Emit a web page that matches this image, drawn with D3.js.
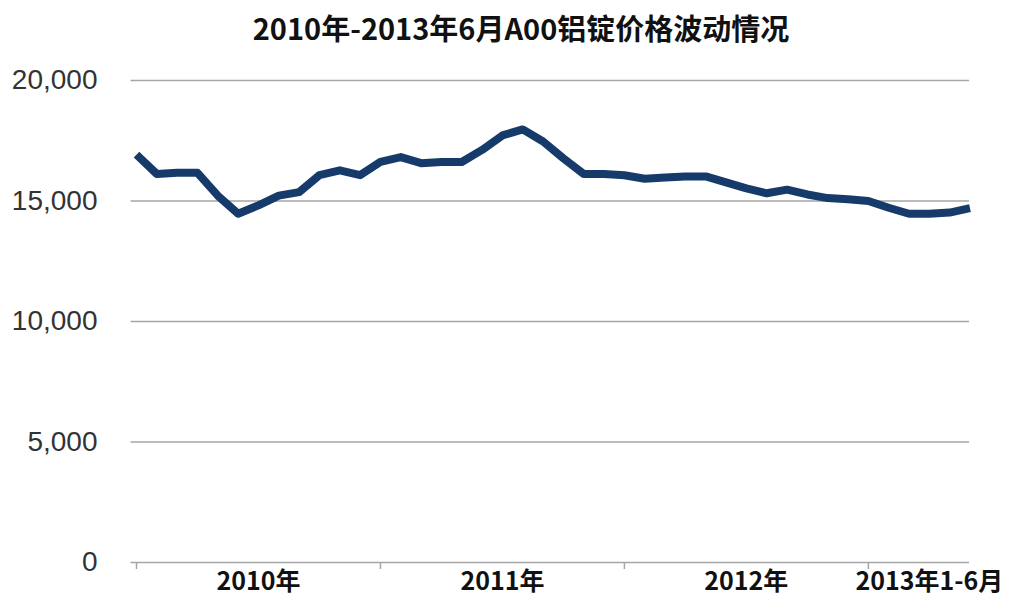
<!DOCTYPE html>
<html>
<head>
<meta charset="utf-8">
<script src="https://cdn.jsdelivr.net/npm/d3@7/dist/d3.min.js"></script>
<style>
  html, body { margin: 0; padding: 0; background: #fff; }
  svg { display: block; }
</style>
</head>
<body>
<svg id="chart" width="1019" height="596"></svg>
<script>
// Monthly A00 aluminium ingot price (yuan/ton), Jan 2010 – Jun 2013
const months = [
  "2010-01","2010-02","2010-03","2010-04","2010-05","2010-06","2010-07","2010-08","2010-09","2010-10","2010-11","2010-12",
  "2011-01","2011-02","2011-03","2011-04","2011-05","2011-06","2011-07","2011-08","2011-09","2011-10","2011-11","2011-12",
  "2012-01","2012-02","2012-03","2012-04","2012-05","2012-06","2012-07","2012-08","2012-09","2012-10","2012-11","2012-12",
  "2013-01","2013-02","2013-03","2013-04","2013-05","2013-06"
];
const prices = [
  16900, 16100, 16150, 16150, 15200, 14450, 14800, 15200, 15350, 16050, 16250, 16050,
  16600, 16800, 16550, 16600, 16600, 17100, 17700, 17950, 17450, 16750, 16100, 16100,
  16050, 15900, 15950, 16000, 16000, 15750, 15500, 15300, 15450, 15250, 15100, 15050,
  14980, 14700, 14450, 14450, 14500, 14680
];
// Year groups along the category axis
const groupLabels = ["2010年", "2011年", "2012年", "2013年1-6月"];
const groupStarts = ["2010-01", "2011-01", "2012-01", "2013-01"];
const yTicks = [0, 5000, 10000, 15000, 20000];

const title = "2010年-2013年6月A00铝锭价格波动情况";

const svg = d3.select("#chart");
const plotLeft = 136.5, plotRight = 970, plotTop = 80, plotBottom = 562;

const x = d3.scalePoint().domain(months).range([plotLeft, plotRight]);
const y = d3.scaleLinear().domain([0, 20000]).range([plotBottom, plotTop]);
const step = x.step();

// Title
svg.append("text")
  .attr("x", 521).attr("y", 40)
  .attr("text-anchor", "middle")
  .attr("font-family", "'Noto Sans CJK SC', sans-serif")
  .attr("font-weight", 700)
  .attr("font-size", 29)
  .attr("fill", "#111")
  .text(title);

// Horizontal gridlines + y labels
const gy = svg.append("g")
  .attr("transform", `translate(${plotLeft - 6},0)`)
  .call(d3.axisLeft(y)
    .tickValues(yTicks)
    .tickSize(-(plotRight - plotLeft + 5))
    .tickPadding(33)
    .tickFormat(d3.format(",")));
gy.select(".domain").remove();
gy.selectAll(".tick line")
  .attr("stroke", "#a6a6a6")
  .attr("stroke-width", 1.5);
gy.selectAll(".tick text")
  .attr("font-family", "'Liberation Sans', Arial, sans-serif")
  .attr("font-size", 28)
  .attr("fill", "#333");

// Category axis ticks at each year boundary
const gx = svg.append("g");
gx.selectAll("line.tk")
  .data(groupStarts)
  .join("line")
  .attr("class", "tk")
  .attr("x1", d => x(d)).attr("x2", d => x(d))
  .attr("y1", plotBottom).attr("y2", plotBottom + 7)
  .attr("stroke", "#a6a6a6")
  .attr("stroke-width", 1.5);

// Year labels centred on each group's months
gx.selectAll("text.grp")
  .data(groupLabels)
  .join("text")
  .attr("class", "grp")
  .attr("x", (d, i) => {
    const start = x(groupStarts[i]);
    const end = i + 1 < groupStarts.length ? x(groupStarts[i + 1]) : plotRight + step;
    return (start + end) / 2;
  })
  .attr("y", 590)
  .attr("text-anchor", "middle")
  .attr("font-family", "'Noto Sans CJK SC', sans-serif")
  .attr("font-weight", 700)
  .attr("font-size", 25)
  .attr("fill", "#111")
  .text(d => d);

// Price line
const line = d3.line()
  .x((d, i) => x(months[i]))
  .y(d => y(d));

svg.append("path")
  .datum(prices)
  .attr("d", line)
  .attr("fill", "none")
  .attr("stroke", "#163b6b")
  .attr("stroke-width", 8)
  .attr("stroke-linejoin", "round")
  .attr("stroke-linecap", "butt");
</script>
</body>
</html>
